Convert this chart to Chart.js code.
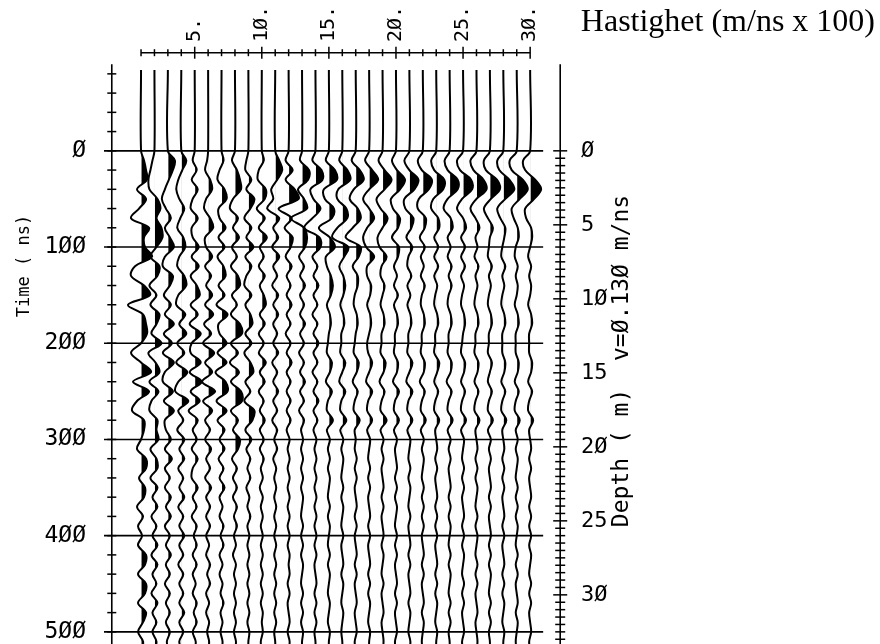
<!DOCTYPE html>
<html lang="en">

<head>
    <meta charset="UTF-8">
    <title>Hastighet - CVS panel</title>
    <script src="https://cdn.jsdelivr.net/npm/chart.js"></script>
    <style>
        html, body { margin: 0; background: #fff; }
        canvas { display: block; }
    </style>
</head>

<body>
    <canvas id="wiggle" width="880" height="644"></canvas>

    <script>
        // Sample times (ns). The first sample is the start of the record.
        const times = [-84, 0, 10, 20, 30, 40, 50, 60, 70, 80, 90,
            100, 110, 120, 130, 140, 150, 160, 170, 180, 190,
            200, 210, 220, 230, 240, 250, 260, 270, 280, 290,
            300, 310, 320, 330, 340, 350, 360, 370, 380, 390,
            400, 410, 420, 430, 440, 450, 460, 470, 480, 490,
            500, 510, 520];

        // One row per trace (velocity 5..30 m/ns x 100 -> traces 1..30), amplitude at each sample
        const traces = [
            [0, 0, 3, 5, 6, -4, 5, -2, -10, 8, 3, 4, 11, -6, -10, 3, 9, -13, 2, 5, 6, 0, -10, 0, 10, -8, 8, -4, -9, 3, 3, 0, -4, 5, 5, -2, 4, 3, -4, 2, -3, 1, -3, 5, 4, -3, 5, 4, -3, 5, 2, -3, 2, 1],
            [0, 0, -2, -4, -6, -5, 3, 6, 2, 7, 8, 2, -4, 5, 3, -5, 2, -4, 5, 2, -3, 7, -6, 1, 5, -5, 4, -3, -5, 3, 2, 4, -4, 2, 3, -4, 3, -2, 3, -3, 2, -2, 3, -3, 3, -2, 2, -3, 3, -2, 2, -2, 2, 0],
            [0, 0, 7, 5, 1, -3, -6, -2, 3, -3, 2, 6, -3, -5, 5, 2, -4, 3, -3, 6, -4, 4, -5, 6, -3, -5, 5, -4, 6, -3, -2, 3, -3, 4, -3, 2, -3, 3, -2, 3, -3, 2, -2, 3, -2, 2, -3, 2, -2, 2, -2, 2, -1, 1],
            [0, 0, 5, 1, -3, -5, -2, 3, -1, -4, 2, 4, -2, -4, 3, 5, -3, -5, 4, -2, 5, -4, 3, -5, 6, -3, -6, 7, -3, 2, -4, 3, -2, 3, -3, 2, -2, 3, -3, 2, -2, 3, -2, 2, -3, 2, -2, 2, -2, 3, -2, 2, -2, 1],
            [0, 0, -2, 2, -3, 3, -2, -4, 3, -3, -2, 4, -3, 4, -4, 2, 5, -4, 3, -5, 6, -3, -4, 6, -5, 7, -4, 5, -6, 3, -2, 2, -3, 3, -2, -3, 3, -2, 2, -3, 2, -1, 2, -2, 2, -2, 1, -2, 2, -1, 2, -2, 1, 0],
            [0, 0, -1, -3, 2, 4, -2, -4, 2, 5, -3, -2, 4, -3, 3, -2, 4, -3, 5, -4, 3, -5, 6, -3, 4, -6, 7, -5, 4, -3, 2, -3, 3, -2, 2, -3, 3, -2, 2, -2, 2, -2, 1, -2, 2, -1, 2, -2, 1, -2, 1, -1, 1, 0],
            [0, 0, 2, -2, -4, 3, 5, -3, -2, 4, -3, 3, -4, 2, 4, -3, 3, -5, 6, -3, -2, 5, -4, 5, -6, 4, 6, -5, 5, -4, 3, -2, 3, -3, 2, -2, 3, -2, 1, -2, 2, -1, 2, -2, 1, -2, 1, -1, 2, -1, 1, -1, 1, 0],
            [0, 0, -3, 2, 5, 6, -2, -5, 3, -2, 4, -3, 2, -4, 3, 5, -3, 2, -4, 5, 7, -4, 3, -5, 4, -4, 6, 7, -4, 3, -2, 5, 3, -3, 2, -2, 2, -2, 2, -1, 2, -1, 1, -2, 1, -1, 1, -1, 1, -1, 1, -1, 1, 0],
            [0, 0, -2, -3, 3, -2, 6, 2, -4, 3, -2, 5, -3, 3, -2, -4, 3, -3, 2, 4, -3, 3, -4, 2, 5, -3, 2, -4, 6, 4, -3, 3, -2, 2, -1, 2, -2, 1, -1, 2, -1, 1, -1, 1, -1, 1, -1, 1, -1, 1, -1, 1, 0, 0],
            [0, 0, 2, -3, -4, 4, 3, -5, 3, -3, 5, -2, 2, -3, 3, -2, 2, 4, -2, 3, -3, 2, -3, 4, -2, 3, -3, 2, -2, 3, -2, 2, -2, 2, -1, 1, -2, 1, -1, 1, -1, 1, -1, 1, -1, 1, -1, 1, -1, 1, 0, 1, -1, 0],
            [0, 0, 4, 7, 2, -4, -2, -8, 4, -2, 3, -3, 4, -2, 2, -3, 3, -2, 3, -2, 2, -2, 3, -3, 2, -2, 3, -2, 2, -3, 2, -1, 2, -2, 1, -1, 1, -1, 1, -1, 1, -1, 1, -1, 1, -1, 1, -1, 1, -1, 1, -1, 0, 0],
            [0, 0, -3, 4, -3, 6, 10, -10, 3, -4, 4, 2, -3, 3, -2, 2, -2, 3, -2, 2, -3, 2, -2, 3, -2, 2, -2, 2, -2, 2, -2, 1, -1, 1, -1, 1, -1, 1, -1, 1, -1, 1, -1, 1, 0, 1, -1, 1, -1, 0, 1, -1, 1, 0],
            [0, 0, -2, 7, 6, -4, 2, 5, -11, 2, 5, 3, -3, 2, -2, 3, -2, 2, -2, 3, -2, 2, -3, 2, -2, 3, -2, 2, -3, 2, -1, 1, -1, 1, -1, 1, -1, 1, 0, -1, 1, -1, 1, -1, 1, 0, -1, 1, -1, 1, -1, 1, 0, 0],
            [0, 0, -3, 6, 7, -5, -2, 5, -3, -11, 4, 5, -3, 2, -2, 3, -2, 2, -3, 2, -2, 3, -2, 2, -3, 2, -2, 3, -2, 2, -2, 1, -1, 1, -1, 1, -1, 1, -1, 1, -1, 1, -1, 1, -1, 0, 1, -1, 1, -1, 1, -1, 0, 0],
            [0, 0, -3, 6, 8, -5, -4, 5, 3, -10, 1, 6, -3, -2, 2, 4, 2, -2, 1, 2, 0, -1, -2, 3, 1, -3, 3, -1, -2, 4, -2, 1, -1, 1, -1, 1, 0, -1, 1, -1, 1, 0, -1, 1, -1, 1, 0, -1, 1, 0, -1, 1, 0, 0],
            [0, 0, -3, 5, 8, -4, -5, 4, 5, -5, -10, 6, 2, -3, 1, 3, 1, -2, 1, 2, -1, -1, -2, 3, 0, -3, 3, -1, -2, 4, -2, 1, -1, 1, 0, -1, 1, -1, 1, 0, -1, 1, -1, 0, 1, -1, 1, 0, -1, 1, 0, -1, 0, 0],
            [0, 0, -4, 4, 8, -2, -6, 2, 5, -3, -10, 5, 3, -3, 2, 2, -1, -2, 1, 2, 0, -1, -2, 3, 1, -3, 2, -1, -2, 4, -1, 0, -1, 1, -1, 1, -1, 0, 1, -1, 1, -1, 0, 1, -1, 1, -1, 0, 1, -1, 0, 1, -1, 0],
            [0, 0, -4, 3, 9, 0, -6, 0, 5, -2, -6, -3, 5, -2, -2, 2, 1, -2, 1, 2, 0, -2, -1, 3, 0, -3, 3, -1, -2, 3, -2, 1, 0, -1, 1, -1, 1, -1, 0, 1, -1, 1, -1, 0, 1, -1, 1, -1, 1, 0, -1, 1, 0, 0],
            [0, 0, -4, 2, 9, 2, -6, -2, 5, 0, -5, -3, 4, -1, -2, 2, 0, -2, 1, 2, -1, -1, -2, 3, 1, -3, 2, -1, -2, 4, -2, 1, -1, 1, -1, 0, 1, -1, 1, -1, 0, 1, -1, 1, 0, -1, 1, -1, 0, 1, -1, 0, 1, 0],
            [0, 0, -4, 1, 9, 4, -5, -3, 4, 2, -4, 3, 2, -2, 1, -2, 2, -2, 1, 2, -1, -1, -2, 2, 1, -3, 3, -1, -2, 3, -2, 1, -1, 0, 1, -1, 1, -1, 1, 0, -1, 1, -1, 1, -1, 0, 1, -1, 1, -1, 0, 1, -1, 0],
            [0, 0, -5, 0, 9, 5, -5, -4, 4, 2, -3, 3, -1, -2, 2, -2, 1, -2, 1, 2, -1, -1, -2, 3, 0, -3, 3, -1, -2, 3, -2, 1, 0, -1, 1, -1, 1, 0, -1, 1, -1, 0, 1, -1, 1, -1, 0, 1, -1, 1, 0, -1, 1, 0],
            [0, 0, -5, -1, 9, 6, -4, -5, 3, 2, -3, 2, -2, 1, -2, 2, -1, -2, 1, 2, -1, -1, -2, 2, 1, -3, 2, -1, -2, 3, -2, 1, -1, 1, 0, -1, 1, -1, 1, -1, 1, -1, 0, 1, -1, 1, -1, 0, 1, -1, 1, 0, -1, 0],
            [0, 0, -5, -2, 8, 7, -3, -5, 2, 3, -2, 2, -2, 2, -2, 1, -1, -2, 1, 2, -1, -1, -2, 3, 1, -2, 2, -1, -2, 3, -1, 0, 1, -1, 1, -1, 0, 1, -1, 1, -1, 1, -1, 0, 1, -1, 1, -1, 1, 0, -1, 1, 0, 0],
            [0, 0, -5, -2, 8, 8, -2, -6, 1, 3, -2, 1, -2, 2, -1, 2, -1, -2, 1, 2, -1, -1, -2, 2, 1, -3, 2, -1, -2, 3, -2, 1, -1, 1, -1, 0, 1, -1, 1, -1, 1, 0, -1, 1, -1, 1, 0, -1, 1, -1, 1, -1, 0, 0],
            [0, 0, -6, -3, 8, 9, -1, -6, 0, 3, -2, 2, -2, 2, -2, 1, -1, -2, 1, 2, 0, -1, -2, 2, 1, -2, 2, -1, -2, 3, -2, 1, 0, -1, 1, -1, 1, -1, 0, 1, -1, 1, -1, 1, 0, -1, 1, -1, 1, -1, 0, 1, -1, 0],
            [0, 0, -6, -3, 7, 10, 0, -6, -1, 3, -1, 1, -2, 2, -1, 1, -1, -2, 1, 2, -1, -1, -2, 2, 1, -2, 2, -1, -2, 3, -1, 0, 1, -1, 1, -1, 1, 0, -1, 1, -1, 1, 0, -1, 1, -1, 1, -1, 0, 1, -1, 0, 1, 0],
            [0, 0, -6, -4, 7, 10, 1, -6, -2, 3, 0, -1, -2, 2, -1, 1, -1, -2, 1, 2, -1, -1, -2, 2, 0, -2, 2, -1, -2, 3, -2, 1, -1, 1, -1, 0, 1, -1, 1, -1, 0, 1, -1, 1, -1, 1, 0, -1, 1, -1, 1, -1, 0, 0],
            [0, 0, -6, -4, 6, 11, 2, -6, -3, 2, 1, -1, -2, 2, -1, 1, -1, -2, 1, 2, -1, -1, -1, 2, 1, -2, 2, -1, -2, 3, -1, 0, 1, -1, 1, -1, 1, -1, 0, 1, -1, 1, -1, 0, 1, -1, 1, -1, 1, 0, -1, 1, 0, 0],
            [0, 0, -7, -5, 6, 11, 3, -5, -3, 1, 2, -1, -2, 1, -1, 1, 0, -2, 1, 2, -1, -1, -1, 2, 1, -2, 2, -1, -2, 3, -1, 1, -1, 1, 0, -1, 1, -1, 1, -1, 1, 0, -1, 1, -1, 1, -1, 0, 1, -1, 1, 0, -1, 0],
            [0, 0, -7, -5, 5, 11, 4, -5, -4, 1, 2, 0, -2, 1, -1, 1, 0, -2, 1, 2, -1, -1, -1, 2, 1, -2, 2, -1, -2, 3, -1, 0, 1, -1, 1, -1, 0, 1, -1, 1, -1, 1, -1, 1, 0, -1, 1, -1, 1, -1, 0, 1, -1, 0]
        ];

        const traceNumbers = [1, 2, 3, 4, 5, 6, 7, 8, 9, 10, 11, 12, 13, 14, 15,
            16, 17, 18, 19, 20, 21, 22, 23, 24, 25, 26, 27, 28, 29, 30];
        const traceLabels = [5, 10, 15, 20, 25, 30];
        const timeLabels = [0, 100, 200, 300, 400, 500];
        const timeTicks = [-80, -60, -40, -20, 0, 20, 40, 60, 80, 100, 120, 140, 160, 180, 200,
            220, 240, 260, 280, 300, 320, 340, 360, 380, 400, 420, 440, 460, 480, 500];
        const depthLabels = [0, 5, 10, 15, 20, 25, 30];
        const depthTicks = [0, 0.5, 1, 1.5, 2, 2.5, 3, 3.5, 4, 4.5, 5, 5.5, 6, 6.5, 7, 7.5, 8, 8.5, 9, 9.5,
            10, 10.5, 11, 11.5, 12, 12.5, 13, 13.5, 14, 14.5, 15, 15.5, 16, 16.5, 17, 17.5, 18, 18.5, 19, 19.5,
            20, 20.5, 21, 21.5, 22, 22.5, 23, 23.5, 24, 24.5, 25, 25.5, 26, 26.5, 27, 27.5, 28, 28.5, 29, 29.5,
            30, 30.5, 31, 31.5, 32, 32.5, 33];
        const velocity = 0.130; // m/ns, used for the depth scale

        // plot geometry, in axis units
        const gain = 1 / 13.4;          // amplitude -> fraction of the trace spacing
        const tMin = -110, tMax = 512.5;
        const xMin = -1.76, xMax = 32.97;
        const timeAxisAt = -1.18;       // x of the time axis line
        const depthAxisAt = 32.24;      // x of the depth axis line
        const topAxisAt = -102;         // time of the trace-number axis line
        const gridRight = 30.97;

        const plotFont = '"DejaVu Sans Mono", monospace';
        const slashZero = v => String(v).replace(/0/g, 'Ø');
        const toDepth = t => t * velocity / 2;

        const mainTitle = 'Hastighet (m/ns x 100)';
        const timeTitle = 'Time ( ns)';
        const depthTitle = 'Depth ( m)  v=' + slashZero(velocity.toFixed(3)) + ' m/ns';

        // black fill only on the right of a trace's zero line
        function positiveFill(chart, base) {
            const scale = chart.scales.x;
            if (!chart.chartArea || !scale) return 'rgba(0,0,0,0)';
            const px = scale.getPixelForValue(base);
            const g = chart.ctx.createLinearGradient(px, 0, px + 1, 0);
            g.addColorStop(0, 'rgba(0,0,0,0)');
            g.addColorStop(1, '#000');
            return g;
        }

        const rule = (data, extra) => Object.assign({
            data, borderColor: '#000', borderWidth: 1.6, pointRadius: 0, fill: false, tension: 0
        }, extra);

        const tickMarks = (data, radius, extra) => Object.assign({
            data, showLine: false, pointStyle: 'line', pointRadius: radius,
            pointBorderColor: '#000', pointBorderWidth: 1.5, fill: false
        }, extra);

        const datasets = [];

        // 100 ns lines across the panel
        timeLabels.forEach(t => {
            datasets.push(rule([{ x: xMin, y: t }, { x: gridRight, y: t }]));
        });

        // time axis
        datasets.push(rule([{ x: timeAxisAt, y: -90 }, { x: timeAxisAt, y: tMax }]));
        datasets.push(tickMarks(timeTicks.map(t => ({ x: timeAxisAt, y: t })), 4.5));

        // trace-number axis
        datasets.push(rule([{ x: traceNumbers[0], y: topAxisAt }, { x: traceNumbers[traceNumbers.length - 1], y: topAxisAt }]));
        datasets.push(tickMarks(traceNumbers.map(n => ({ x: n, y: topAxisAt })),
            c => traceLabels.includes(c.raw.x) ? 6 : 3.5, { pointRotation: 90 }));

        // depth axis
        datasets.push(rule([{ x: depthAxisAt, y: toDepth(-90) }, { x: depthAxisAt, y: toDepth(tMax) }], { yAxisID: 'y2' }));
        datasets.push(tickMarks(depthTicks.map(d => ({ x: depthAxisAt, y: d })),
            c => depthLabels.includes(c.raw.y) ? 7 : 5, { yAxisID: 'y2' }));

        // wiggle traces
        traces.forEach((amp, i) => {
            const base = traceNumbers[i];
            datasets.push({
                data: times.map((t, j) => ({ x: base + amp[j] * gain, y: t })),
                borderColor: '#000',
                borderWidth: 2,
                pointRadius: 0,
                tension: 0.35,
                fill: { value: base },
                backgroundColor: c => positiveFill(c.chart, base)
            });
        });

        // captions: panel title and the two rotated axis captions
        const captions = {
            id: 'captions',
            afterDraw(chart) {
                const ctx = chart.ctx;
                ctx.save();
                ctx.fillStyle = '#000';
                ctx.font = '32px "Liberation Serif", serif';
                ctx.textAlign = 'right';
                ctx.textBaseline = 'alphabetic';
                ctx.fillText(mainTitle, 875, 31);
                ctx.restore();

                const rotated = [
                    { text: timeTitle, x: 25, y: 266, size: 17 },
                    { text: depthTitle, x: 622, y: 361, size: 23 }
                ];
                rotated.forEach(n => {
                    ctx.save();
                    ctx.fillStyle = '#000';
                    ctx.font = n.size + 'px ' + plotFont;
                    ctx.textAlign = 'center';
                    ctx.textBaseline = 'middle';
                    ctx.translate(n.x, n.y);
                    ctx.rotate(-Math.PI / 2);
                    ctx.fillText(n.text, 0, 0);
                    ctx.restore();
                });
            }
        };

        // tick marks of the label scales stay invisible; their length only sets the label offset
        const labelOffset = len => ({
            display: true, drawOnChartArea: false, drawTicks: true,
            tickLength: len, tickColor: 'rgba(0,0,0,0)'
        });

        new Chart(document.getElementById('wiggle'), {
            type: 'line',
            data: { datasets },
            plugins: [captions],
            options: {
                indexAxis: 'y',
                responsive: false,
                animation: false,
                devicePixelRatio: 1,
                events: [],
                layout: { autoPadding: false, padding: { left: 0, right: 5, top: 0, bottom: 0 } },
                plugins: {
                    legend: { display: false },
                    tooltip: { enabled: false }
                },
                scales: {
                    x: {
                        type: 'linear',
                        position: 'top',
                        min: xMin,
                        max: xMax,
                        afterFit: s => { s.height = 45; },
                        grid: labelOffset(3),
                        border: { display: false },
                        ticks: {
                            stepSize: 5,
                            includeBounds: false,
                            autoSkip: false,
                            minRotation: 90,
                            maxRotation: 90,
                            padding: 0,
                            color: '#000',
                            font: { family: plotFont, size: 20, lineHeight: 0.01 },
                            callback: v => traceLabels.includes(v) ? slashZero(v) + '.' : ''
                        }
                    },
                    y: {
                        type: 'linear',
                        position: 'left',
                        reverse: true,
                        min: tMin,
                        max: tMax,
                        afterFit: s => { s.width = 104; },
                        grid: labelOffset(18),
                        border: { display: false },
                        ticks: {
                            stepSize: 100,
                            includeBounds: false,
                            padding: 0,
                            color: '#000',
                            font: { family: plotFont, size: 23, lineHeight: 0.01 },
                            callback: v => timeLabels.includes(v) ? slashZero(v) : ''
                        }
                    },
                    y2: {
                        type: 'linear',
                        position: 'right',
                        reverse: true,
                        min: toDepth(tMin),
                        max: toDepth(tMax),
                        afterFit: s => { s.width = 305; },
                        grid: labelOffset(11),
                        border: { display: false },
                        ticks: {
                            stepSize: 5,
                            includeBounds: false,
                            padding: 0,
                            color: '#000',
                            font: { family: plotFont, size: 22, lineHeight: 0.01 },
                            callback: v => depthLabels.includes(v) ? slashZero(v) : ''
                        }
                    }
                }
            }
        });
    </script>
</body>

</html>
